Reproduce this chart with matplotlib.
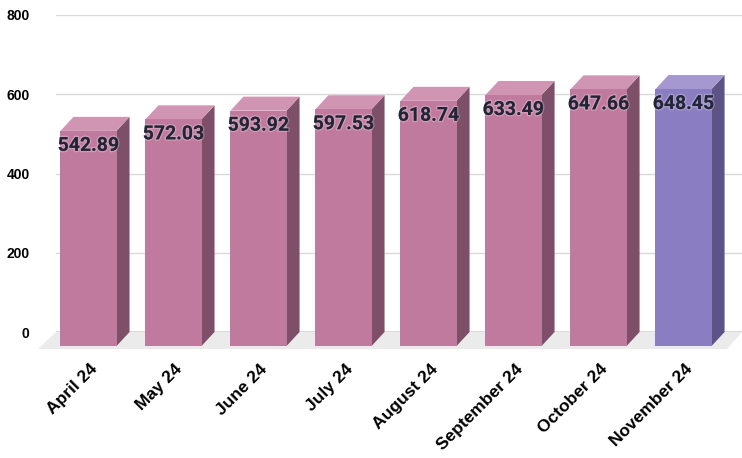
import numpy as np
import matplotlib.pyplot as plt
from matplotlib.patches import Polygon
import matplotlib.patheffects as pe

months = ['April 24', 'May 24', 'June 24', 'July 24', 'August 24',
          'September 24', 'October 24', 'November 24']
values = [542.89, 572.03, 593.92, 597.53, 618.74, 633.49, 647.66, 648.45]
highlight = [False, False, False, False, False, False, False, True]

# face colours: front, side, top
pink = ('#c07a9e', '#7d4f69', '#cf95b3')
purple = ('#8b7dc1', '#5e5385', '#a598d1')

W, H = 742, 458
fig = plt.figure(figsize=(W / 100, H / 100), dpi=100)
ax = fig.add_axes([56 / W, (H - 332) / H, (W - 56) / W, 317 / H])
ax.set_xlim(-0.535, 7.535)
ax.set_ylim(0, 800)

# pixel -> data unit conversion for the 3d depth offset
p0 = ax.transData.transform((0, 0))
p1 = ax.transData.transform((1, 1))
ux, uy = p1[0] - p0[0], p1[1] - p0[1]
ddx, ddy = 13 / ux, 14 / uy

x = np.arange(len(months))
w = 0.66

# floor
xmin, xmax = ax.get_xlim()
floor = Polygon([(xmin, 0), (xmax, 0), (xmax - 15 / ux, -17 / uy), (xmin - 18 / ux, -17 / uy)],
                closed=True, facecolor='#ebebeb', edgecolor='none', clip_on=False, zorder=1)
ax.add_patch(floor)
ax.axhline(0, color='#666666', lw=1, zorder=1.5)

for i, v in enumerate(values):
    front, side, top = purple if highlight[i] else pink
    x0, x1 = x[i] - w / 2, x[i] + w / 2
    ax.bar(x[i] - ddx, v, width=w, bottom=-ddy, color=front, clip_on=False, zorder=3)
    ax.add_patch(Polygon([(x1 - ddx, -ddy), (x1 - ddx, v - ddy), (x1, v), (x1, 0)],
                         facecolor=side, edgecolor='none', clip_on=False, zorder=2.5))
    ax.add_patch(Polygon([(x0 - ddx, v - ddy), (x1 - ddx, v - ddy), (x1, v), (x0, v)],
                         facecolor=top, edgecolor='none', clip_on=False, zorder=2.5))
    ax.annotate(f'{v:.2f}', (x[i] - ddx, v - ddy), xytext=(0, -15), textcoords='offset pixels',
                ha='center', va='center', fontsize=14, fontweight='bold', family='Roboto',
                color='#232536', zorder=4,
                path_effects=[pe.withStroke(linewidth=2, foreground=(1, 1, 1, 0.25))])

ax.set_yticks([0, 200, 400, 600, 800])
ax.grid(axis='y', color='#d9d9d9', lw=1)
ax.set_axisbelow(True)
for s in ax.spines.values():
    s.set_visible(False)
ax.tick_params(axis='y', length=0, pad=19)
ax.tick_params(axis='x', length=0, pad=21)
for lab in ax.get_yticklabels():
    lab.set_fontweight('bold')
    lab.set_fontsize(10)
    lab.set_family('Liberation Sans')

ax.set_xticks(x - ddx * 0.9)
ax.set_xticklabels(months, rotation=45, ha='right', rotation_mode='anchor',
                   fontsize=12.5, fontweight='bold', family='Liberation Sans')

fig.savefig('out.png', dpi=100)
